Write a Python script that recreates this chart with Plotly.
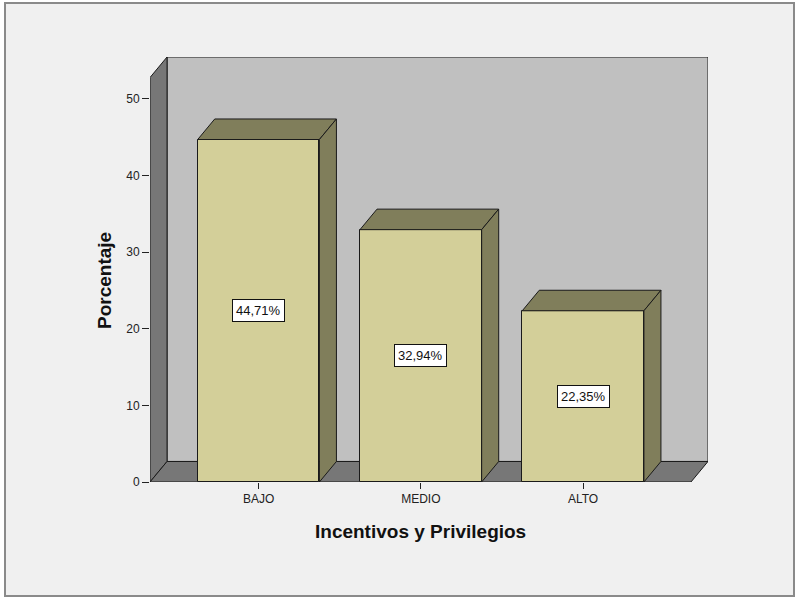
import plotly.graph_objects as go

# ---- data ----
categories = ["BAJO", "MEDIO", "ALTO"]
percentages = [44.71, 32.94, 22.35]
value_labels = ["44,71%", "32,94%", "22,35%"]
y_ticks = [0, 10, 20, 30, 40, 50]

# ---- layout constants (pixels of the 795x599 page) ----
W, H = 795, 599
L, R, T, B = 150, 708, 57, 482          # plot area edges
X_MIN, X_MAX = -0.669, 2.770            # x axis range (category units)
Y_MIN, Y_MAX = 0.0, 55.48               # y axis range (percent)
DX, DY = 0.105, 2.68                    # 3D depth offset in axis units
BAR_W = 0.75

FRONT = "#d3cf99"
SHADE = "#807e5b"
WALL = "#c0c0c0"
DARK = "#777777"
EDGE = "#1a1a1a"
FONT = "Liberation Sans, Arial, sans-serif"


def px_to_paper_x(px):
    return (px - L) / (R - L)


def px_to_paper_y(py):
    return (B - py) / (B - T)


def poly(pts):
    return "M " + " L ".join(f"{x},{y}" for x, y in pts) + " Z"


xs = list(range(len(categories)))

fig = go.Figure()

shapes = []
# outer frame
shapes.append(dict(type="rect", xref="paper", yref="paper",
                   x0=px_to_paper_x(5), x1=px_to_paper_x(794),
                   y0=px_to_paper_y(596), y1=px_to_paper_y(3),
                   fillcolor="#f0f0f0", line=dict(color="#8a8a8a", width=2),
                   layer="below"))
# back wall
shapes.append(dict(type="path", xref="x", yref="y", layer="below",
                   path=poly([(X_MIN + DX, DY), (X_MAX, DY), (X_MAX, Y_MAX), (X_MIN + DX, Y_MAX)]),
                   fillcolor=WALL, line=dict(color=EDGE, width=1)))
# left wall
shapes.append(dict(type="path", xref="x", yref="y", layer="below",
                   path=poly([(X_MIN, 0), (X_MIN, Y_MAX - DY), (X_MIN + DX, Y_MAX), (X_MIN + DX, DY)]),
                   fillcolor=DARK, line=dict(color=EDGE, width=1)))
# floor
shapes.append(dict(type="path", xref="x", yref="y", layer="below",
                   path=poly([(X_MIN, 0), (X_MAX - DX, 0), (X_MAX, DY), (X_MIN + DX, DY)]),
                   fillcolor=DARK, line=dict(color=EDGE, width=1)))

# bar front faces
fig.add_trace(go.Bar(x=xs, y=percentages, width=BAR_W,
                     marker=dict(color=FRONT, line=dict(color=EDGE, width=1)),
                     hoverinfo="skip", showlegend=False))

# bar top and side faces
for x, v in zip(xs, percentages):
    xl, xr = x - BAR_W / 2, x + BAR_W / 2
    top = [(xl, v), (xr, v), (xr + DX, v + DY), (xl + DX, v + DY), (xl, v)]
    side = [(xr, 0), (xr + DX, DY), (xr + DX, v + DY), (xr, v), (xr, 0)]
    for face in (top, side):
        fig.add_trace(go.Scatter(x=[p[0] for p in face], y=[p[1] for p in face],
                                 mode="lines", fill="toself", fillcolor=SHADE,
                                 line=dict(color=EDGE, width=1),
                                 hoverinfo="skip", showlegend=False))

annotations = []
for x, v, lab in zip(xs, percentages, value_labels):
    annotations.append(dict(x=x, y=v / 2, xref="x", yref="y", text=lab,
                            showarrow=False, bgcolor="white",
                            bordercolor="#111111", borderwidth=1, borderpad=3,
                            font=dict(family=FONT, size=13, color="#111111")))
# axis titles
annotations.append(dict(xref="paper", yref="paper", x=px_to_paper_x(104), y=px_to_paper_y(281),
                        text="<b>Porcentaje</b>", textangle=-90, showarrow=False,
                        xanchor="center", yanchor="middle",
                        font=dict(family=FONT, size=19, color="#111111")))
annotations.append(dict(xref="paper", yref="paper", x=px_to_paper_x(420), y=px_to_paper_y(531),
                        text="<b>Incentivos y Privilegios</b>", showarrow=False,
                        xanchor="center", yanchor="middle",
                        font=dict(family=FONT, size=19, color="#111111")))

fig.update_layout(
    width=W, height=H,
    margin=dict(l=L, r=W - R, t=T, b=H - B, pad=0),
    paper_bgcolor="white", plot_bgcolor="rgba(0,0,0,0)",
    shapes=shapes, annotations=annotations,
    bargap=0,
    xaxis=dict(range=[X_MIN, X_MAX], tickmode="array", tickvals=xs, ticktext=categories,
               ticks="outside", ticklen=6, tickcolor="#222222", tickwidth=1,
               showgrid=False, zeroline=False, showline=False,
               tickfont=dict(family=FONT, size=12, color="#222222"), fixedrange=True),
    yaxis=dict(range=[Y_MIN, Y_MAX], tickmode="array", tickvals=y_ticks,
               ticktext=[str(t) for t in y_ticks],
               ticks="outside", ticklen=7, tickcolor="#222222", tickwidth=1,
               showgrid=False, zeroline=False, showline=False,
               tickfont=dict(family=FONT, size=12, color="#222222"), fixedrange=True),
)

fig.write_html("out.html", config={"displayModeBar": False})
